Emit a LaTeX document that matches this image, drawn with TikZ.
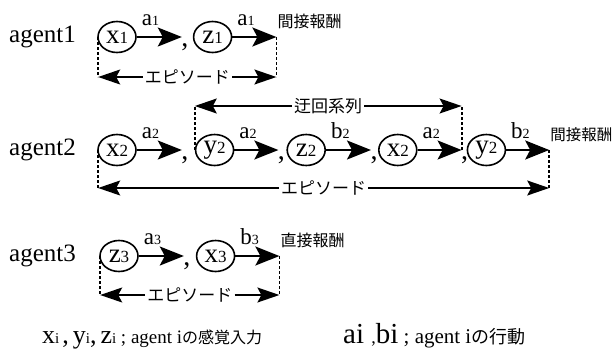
\documentclass[tikz,border=0pt]{standalone}
\usepackage{fontspec}
\setmainfont{Liberation Serif}
\newfontfamily\jpfont{Noto Sans CJK JP}
\usetikzlibrary{arrows.meta}
\usetikzlibrary{positioning}
\usetikzlibrary{shapes.geometric}

% letter with a small index on the baseline
\newcommand{\ix}[2]{#1{\fontsize{17}{17}\selectfont #2}}
\newcommand{\lx}[2]{#1{\fontsize{14}{14}\selectfont #2}}
\newcommand{\kx}[2]{#1{\fontsize{15}{15}\selectfont #2}}

\tikzset{
    obs/.style={ellipse, draw, line width=1.6pt, minimum width=38pt, minimum height=31pt,
        inner sep=0pt, font=\fontsize{27}{27}\selectfont},
    act/.style={-{Stealth[length=24pt,width=19pt,inset=5pt]}, line width=2pt},
    span/.style={-{Stealth[length=22pt,width=15pt,inset=4pt]}, line width=1.5pt},
    dashline/.style={line width=1.8pt, dash pattern=on 3pt off 2pt},
    lbl/.style={anchor=south west, inner sep=0pt, xshift=4pt, yshift=10pt,
        font=\fontsize{23}{23}\selectfont},
    sep/.style={anchor=base, inner sep=0pt, font=\fontsize{28}{28}\selectfont},
    jp/.style={inner sep=2pt, font=\jpfont\fontsize{17}{17}\selectfont},
    reward/.style={anchor=south west, inner sep=0pt, xshift=1pt, yshift=8pt,
        font=\jpfont\fontsize{16}{16}\selectfont},
    agent/.style={anchor=west, inner sep=0pt, font=\fontsize{25}{25}\selectfont},
}

\begin{document}
\begin{tikzpicture}[x=1pt, y=-1pt]
    \useasboundingbox (0,0) rectangle (614,354);

    % agent 1
    \node[agent] (ag1) at (9,37) {agent1};
    \node[obs]                   (x1) at (117,37) {\ix{x}{1}};
    \coordinate[right=45pt of x1.east] (t11);
    \node[obs, right=56pt of x1] (z1) {\ix{z}{1}};
    \coordinate[right=44pt of z1.east] (t12);

    \draw[act] (x1) -- node[lbl, pos=0] {\lx{a}{1}} (t11);
    \draw[act] (z1) -- node[lbl, pos=0] {\lx{a}{1}} (t12);
    \node[sep] at ([xshift=3pt, yshift=-9pt]t11) {,};
    \node[reward] (r1) at (t12) {間接報酬};

    \coordinate (e1l) at ([xshift=1pt, yshift=-40pt]x1.west);
    \coordinate (e1r) at ([yshift=-40pt]t12);
    \draw[dashline] ([xshift=1pt]x1.west) -- (e1l);
    \draw[dashline] (t12) -- (e1r);
    \path (e1l) -- node[jp] (ep1) {エピソード} (e1r);
    \draw[span] (ep1) -- (e1l);
    \draw[span] (ep1) -- (e1r);

    % agent 2
    \node[agent] (ag2) at (9,150) {agent2};
    \node[obs]                    (x2a) at (117,150) {\ix{x}{2}};
    \coordinate[right=45pt of x2a.east] (t21);
    \node[obs, right=58pt of x2a] (y2a) {\ix{y}{2}};
    \coordinate[right=44pt of y2a.east] (t22);
    \node[obs, right=52pt of y2a] (z2)  {\ix{z}{2}};
    \coordinate[right=45pt of z2.east] (t23);
    \node[obs, right=52pt of z2]  (x2b) {\ix{x}{2}};
    \coordinate[right=44pt of x2b.east] (t24);
    \node[obs, right=49pt of x2b] (y2b) {\ix{y}{2}};
    \coordinate[right=43pt of y2b.east] (t25);

    \draw[act] (x2a) -- node[lbl, pos=0] {\lx{a}{2}} (t21);
    \draw[act] (y2a) -- node[lbl, pos=0] {\lx{a}{2}} (t22);
    \draw[act] (z2)  -- node[lbl, pos=0] {\lx{b}{2}} (t23);
    \draw[act] (x2b) -- node[lbl, pos=0] {\lx{a}{2}} (t24);
    \draw[act] (y2b) -- node[lbl, pos=0] {\lx{b}{2}} (t25);
    \foreach \t in {t21,t22,t23,t24}
        \node[sep] at ([xshift=3pt, yshift=-9pt]\t) {,};
    \node[reward, font=\jpfont\fontsize{15.5}{15.5}\selectfont] (r2) at (t25) {間接報酬};

    % detour part of the episode
    \coordinate (d2l) at ([yshift=44pt]y2a.west);
    \coordinate (d2r) at ([yshift=44pt]t24);
    \draw[dashline] (y2a.west) -- (d2l);
    \draw[dashline] (t24) -- (d2r);
    \path (d2l) -- node[jp] (det) {迂回系列} (d2r);
    \draw[span] (det) -- (d2l);
    \draw[span] (det) -- (d2r);

    \coordinate (e2l) at ([xshift=1pt, yshift=-38pt]x2a.west);
    \coordinate (e2r) at ([yshift=-38pt]t25);
    \draw[dashline] ([xshift=1pt]x2a.west) -- (e2l);
    \draw[dashline] (t25) -- (e2r);
    \path (e2l) -- node[jp] (ep2) {エピソード} (e2r);
    \draw[span] (ep2) -- (e2l);
    \draw[span] (ep2) -- (e2r);

    % agent 3
    \node[agent] (ag3) at (9,256) {agent3};
    \node[obs]                   (z3) at (119,256) {\ix{z}{3}};
    \coordinate[right=45pt of z3.east] (t31);
    \node[obs, right=57pt of z3] (x3) {\ix{x}{3}};
    \coordinate[right=44pt of x3.east] (t32);

    \draw[act] (z3) -- node[lbl, pos=0] {\lx{a}{3}} (t31);
    \draw[act] (x3) -- node[lbl, pos=0] {\lx{b}{3}} (t32);
    \node[sep] at ([xshift=3pt, yshift=-9pt]t31) {,};
    \node[reward] (r3) at (t32) {直接報酬};

    \coordinate (e3l) at ([xshift=1pt, yshift=-39pt]z3.west);
    \coordinate (e3r) at ([yshift=-39pt]t32);
    \draw[dashline] ([xshift=1pt]z3.west) -- (e3l);
    \draw[dashline] (t32) -- (e3r);
    \path (e3l) -- node[jp] (ep3) {エピソード} (e3r);
    \draw[span] (ep3) -- (e3l);
    \draw[span] (ep3) -- (e3r);

    % legend
    \node[anchor=base west, inner sep=0pt] (key1) at (42,343)
        {{\fontsize{26}{26}\selectfont \kx{x}{i}\kern3pt,\kern4pt\kx{y}{i},\kern4pt\kx{z}{i}}%
         {\fontsize{19}{19}\selectfont\ ; agent i}{\jpfont\fontsize{16}{16}\selectfont の感覚入力}};
    \node[anchor=base west, inner sep=0pt] (key2) at (343,343)
        {{\fontsize{29}{29}\selectfont ai {\fontsize{18}{18}\selectfont ,}bi}%
         {\fontsize{21}{21}\selectfont\ ; agent i}{\jpfont\fontsize{18}{18}\selectfont の行動}};
\end{tikzpicture}
\end{document}
